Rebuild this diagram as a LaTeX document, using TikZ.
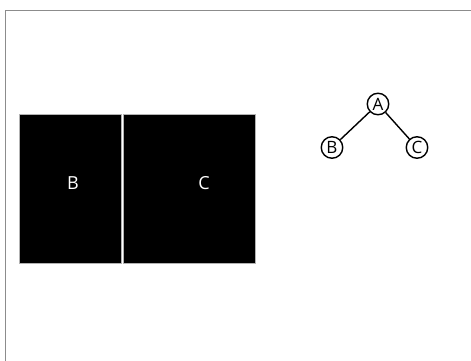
\documentclass[tikz,border=0pt]{standalone}
\usepackage{fontspec}
\setmainfont{Open Sans}
\begin{document}
\begin{tikzpicture}[x=1pt,y=-1pt,
  frameline/.style={draw=gray!90, line width=1.6pt},
  blk/.style={fill=black, draw=gray!60, line width=0.8pt},
  blklabel/.style={text=white, font=\fontsize{18}{20}\selectfont},
  treenode/.style={circle, draw=black, line width=1.4pt, fill=white, minimum size=21.5pt, inner sep=0pt, font=\fontsize{17}{19}\selectfont},
  edge/.style={draw=black, line width=1.4pt}]
\useasboundingbox (0,0) rectangle (471,361);
\fill[white] (0,0) rectangle (471,361);
\coordinate (ftop) at (472,10.5);
\coordinate (fcorner) at (5.5,10.5);
\coordinate (fbot) at (5.5,362);
\draw[frameline] (fbot) -- (fcorner) -- (ftop);
\path[blk] (19,114) rectangle (121,263);
\path[blk] (123,114) rectangle (255,263);
\node[blklabel] (lb) at (73,183.5) {B};
\node[blklabel] (lc) at (204,183.5) {C};
\node[treenode] (A) at (378,104) {A};
\node[treenode] (B) at (332,147.5) {B};
\node[treenode] (C) at (417,147.5) {C};
\draw[edge] (A) -- (B);
\draw[edge] (A) -- (C);
\end{tikzpicture}
\end{document}
